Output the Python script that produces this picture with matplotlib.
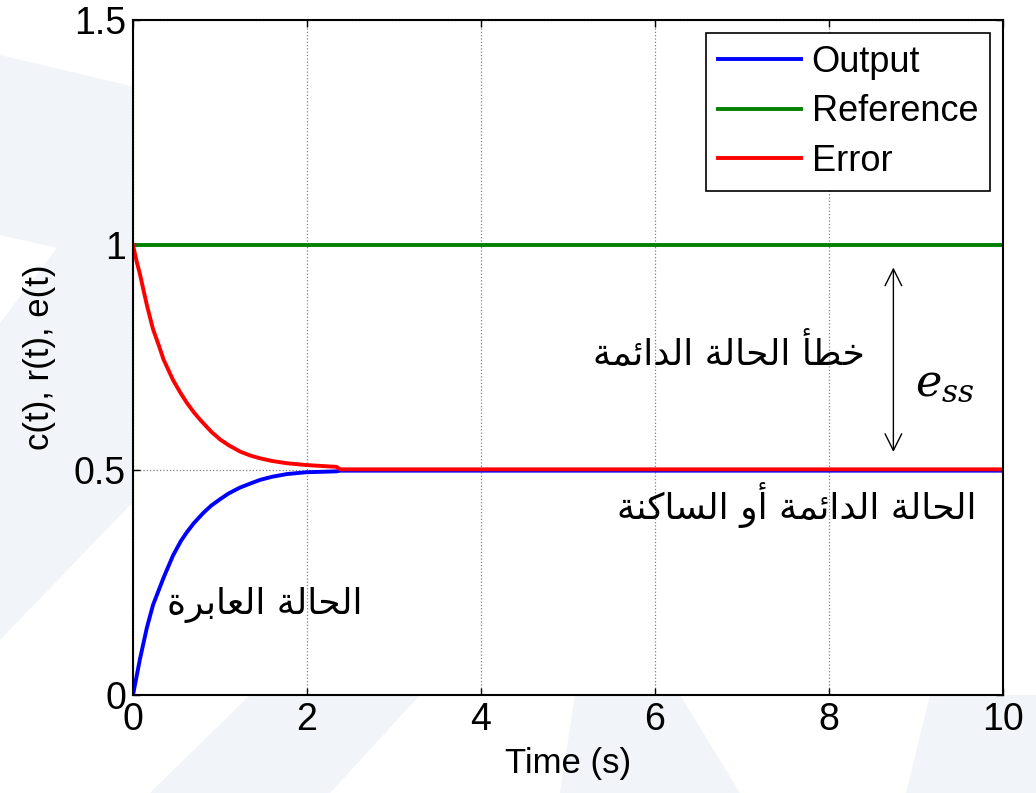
import numpy as np
import matplotlib
matplotlib.use('Agg')
import matplotlib.pyplot as plt
from matplotlib.patches import Polygon

plt.rcParams['font.family'] = ['Liberation Sans', 'DejaVu Sans']
plt.rcParams['mathtext.fontset'] = 'dejavuserif'

# Sampled step response (time in s)
t_out = [0, 0.04, 0.08, 0.12, 0.16, 0.23, 0.30, 0.35, 0.46, 0.55, 0.62, 0.70, 0.81, 0.90,
         1.0, 1.1, 1.23, 1.35, 1.46, 1.6, 1.77, 1.99, 2.34, 2.38, 10]
c_out = [0, 0.040, 0.080, 0.115, 0.150, 0.200, 0.235, 0.260, 0.310, 0.342, 0.362, 0.382,
         0.405, 0.421, 0.435, 0.448, 0.461, 0.470, 0.478, 0.485, 0.491, 0.495, 0.497,
         0.4985, 0.4985]

t_err = [0, 0.04, 0.08, 0.12, 0.16, 0.23, 0.30, 0.35, 0.46, 0.55, 0.62, 0.70, 0.77, 0.90,
         1.0, 1.1, 1.23, 1.35, 1.46, 1.6, 1.77, 1.99, 2.34, 2.38, 10]
e_err = [1.0, 0.965, 0.935, 0.900, 0.866, 0.813, 0.775, 0.746, 0.700, 0.670, 0.649, 0.628,
         0.612, 0.585, 0.568, 0.555, 0.541, 0.532, 0.526, 0.520, 0.515, 0.511, 0.507,
         0.5015, 0.5015]

t_ref = [0, 10]
r_ref = [1, 1]

# Arabic captions
txt_ess = 'خطأ الحالة الدائمة'
txt_steady = 'الحالة الدائمة أو الساكنة'
txt_transient = 'الحالة العابرة'

# isolated, final, initial, medial
ARABIC_FORMS = {
    'ا': ('\uFE8D', '\uFE8E', None, None),
    'أ': ('\uFE83', '\uFE84', None, None),
    'د': ('\uFEA9', '\uFEAA', None, None),
    'ر': ('\uFEAD', '\uFEAE', None, None),
    'و': ('\uFEED', '\uFEEE', None, None),
    'ة': ('\uFE93', '\uFE94', None, None),
    'ب': ('\uFE8F', '\uFE90', '\uFE91', '\uFE92'),
    'ح': ('\uFEA1', '\uFEA2', '\uFEA3', '\uFEA4'),
    'خ': ('\uFEA5', '\uFEA6', '\uFEA7', '\uFEA8'),
    'س': ('\uFEB1', '\uFEB2', '\uFEB3', '\uFEB4'),
    'ط': ('\uFEC1', '\uFEC2', '\uFEC3', '\uFEC4'),
    'ع': ('\uFEC9', '\uFECA', '\uFECB', '\uFECC'),
    'ك': ('\uFED9', '\uFEDA', '\uFEDB', '\uFEDC'),
    'ل': ('\uFEDD', '\uFEDE', '\uFEDF', '\uFEE0'),
    'م': ('\uFEE1', '\uFEE2', '\uFEE3', '\uFEE4'),
    'ن': ('\uFEE5', '\uFEE6', '\uFEE7', '\uFEE8'),
    'ئ': ('\uFE89', '\uFE8A', '\uFE8B', '\uFE8C'),
}


def shape_arabic(text):
    # pick contextual forms, then reverse for left-to-right drawing
    out = []
    for i, ch in enumerate(text):
        if ch not in ARABIC_FORMS:
            out.append(ch)
            continue
        prev = text[i - 1] if i > 0 else ''
        nxt = text[i + 1] if i + 1 < len(text) else ''
        iso, fin, ini, med = ARABIC_FORMS[ch]
        join_prev = prev in ARABIC_FORMS and ARABIC_FORMS[prev][2] is not None
        join_next = ini is not None and nxt in ARABIC_FORMS
        if join_prev and join_next:
            out.append(med)
        elif join_prev:
            out.append(fin)
        elif join_next:
            out.append(ini)
        else:
            out.append(iso)
    return ''.join(reversed(out))


W, H = 1036, 793
fig = plt.figure(figsize=(W / 100, H / 100), dpi=100)
fig.patch.set_facecolor('white')

# faint background shapes
pale = '#f1f4f8'
shapes = [
    [(0, 55), (135, 87), (135, 500), (0, 640)],
    [(150, 793), (250, 695), (420, 695), (330, 793)],
    [(560, 793), (575, 695), (680, 695), (740, 793)],
    [(906, 793), (930, 695), (1036, 695), (1036, 793)],
]
for pts in shapes:
    fig.patches.append(Polygon([(x / W, 1 - y / H) for x, y in pts], closed=True,
                               transform=fig.transFigure, facecolor=pale,
                               edgecolor='none', zorder=-10))
fig.patches.append(Polygon([(0, 1 - 235 / H), (57 / W, 1 - 248 / H), (0, 1 - 323 / H)],
                           closed=True, transform=fig.transFigure, facecolor='white',
                           edgecolor='none', zorder=-9))

ax = fig.add_axes([133 / W, 98 / H, 870 / W, 675 / H])
ax.set_facecolor('white')

ax.plot(t_out, c_out, color='#0000ff', lw=2.8, label='Output')
ax.plot(t_ref, r_ref, color='#008000', lw=2.8, label='Reference')
ax.plot(t_err, e_err, color='#ff0000', lw=2.8, label='Error')

ax.set_xlim(0, 10)
ax.set_ylim(0, 1.5)
ax.set_xticks([0, 2, 4, 6, 8, 10])
ax.set_yticks([0, 0.5, 1, 1.5])
ax.set_yticklabels(['0', '0.5', '1', '1.5'])
ax.grid(True, linestyle=':', color='#808080', lw=0.9)
ax.set_axisbelow(True)

ax.tick_params(direction='in', length=5, width=1, top=True, right=True,
               labelsize=27, pad=5)
for sp in ax.spines.values():
    sp.set_linewidth(1.5)

ax.set_xlabel('Time (s)', fontsize=25)
ax.set_ylabel('c(t), r(t), e(t)', fontsize=25)
ax.xaxis.set_label_coords(0.5, -0.077)
ax.yaxis.set_label_coords(-0.088, 0.5)

leg = ax.legend(loc='upper right', bbox_to_anchor=(0.985, 0.981), borderaxespad=0,
                fontsize=26, frameon=True, fancybox=False, handlelength=2.3,
                handletextpad=0.3, labelspacing=0.4, borderpad=0.33)
leg.get_frame().set_edgecolor('black')
leg.get_frame().set_linewidth(1.2)
leg.get_frame().set_alpha(1)

# steady state error arrow and captions
ax.annotate('', xy=(8.74, 0.54), xytext=(8.74, 0.95),
            arrowprops=dict(arrowstyle='<->,head_length=0.6,head_width=0.3',
                            lw=1.0, color='black', mutation_scale=20,
                            shrinkA=0, shrinkB=0))
ax.text(9.33, 0.69, r'$e_{ss}$', fontsize=32, ha='center', va='center')
ax.text(8.41, 0.76, shape_arabic(txt_ess), family='DejaVu Sans', fontsize=26,
        ha='right', va='center')
ax.text(9.70, 0.422, shape_arabic(txt_steady), family='DejaVu Sans', fontsize=26,
        ha='right', va='center')
ax.text(2.64, 0.20, shape_arabic(txt_transient), family='DejaVu Sans', fontsize=26,
        ha='right', va='center')

fig.savefig('out.png', dpi=100)
